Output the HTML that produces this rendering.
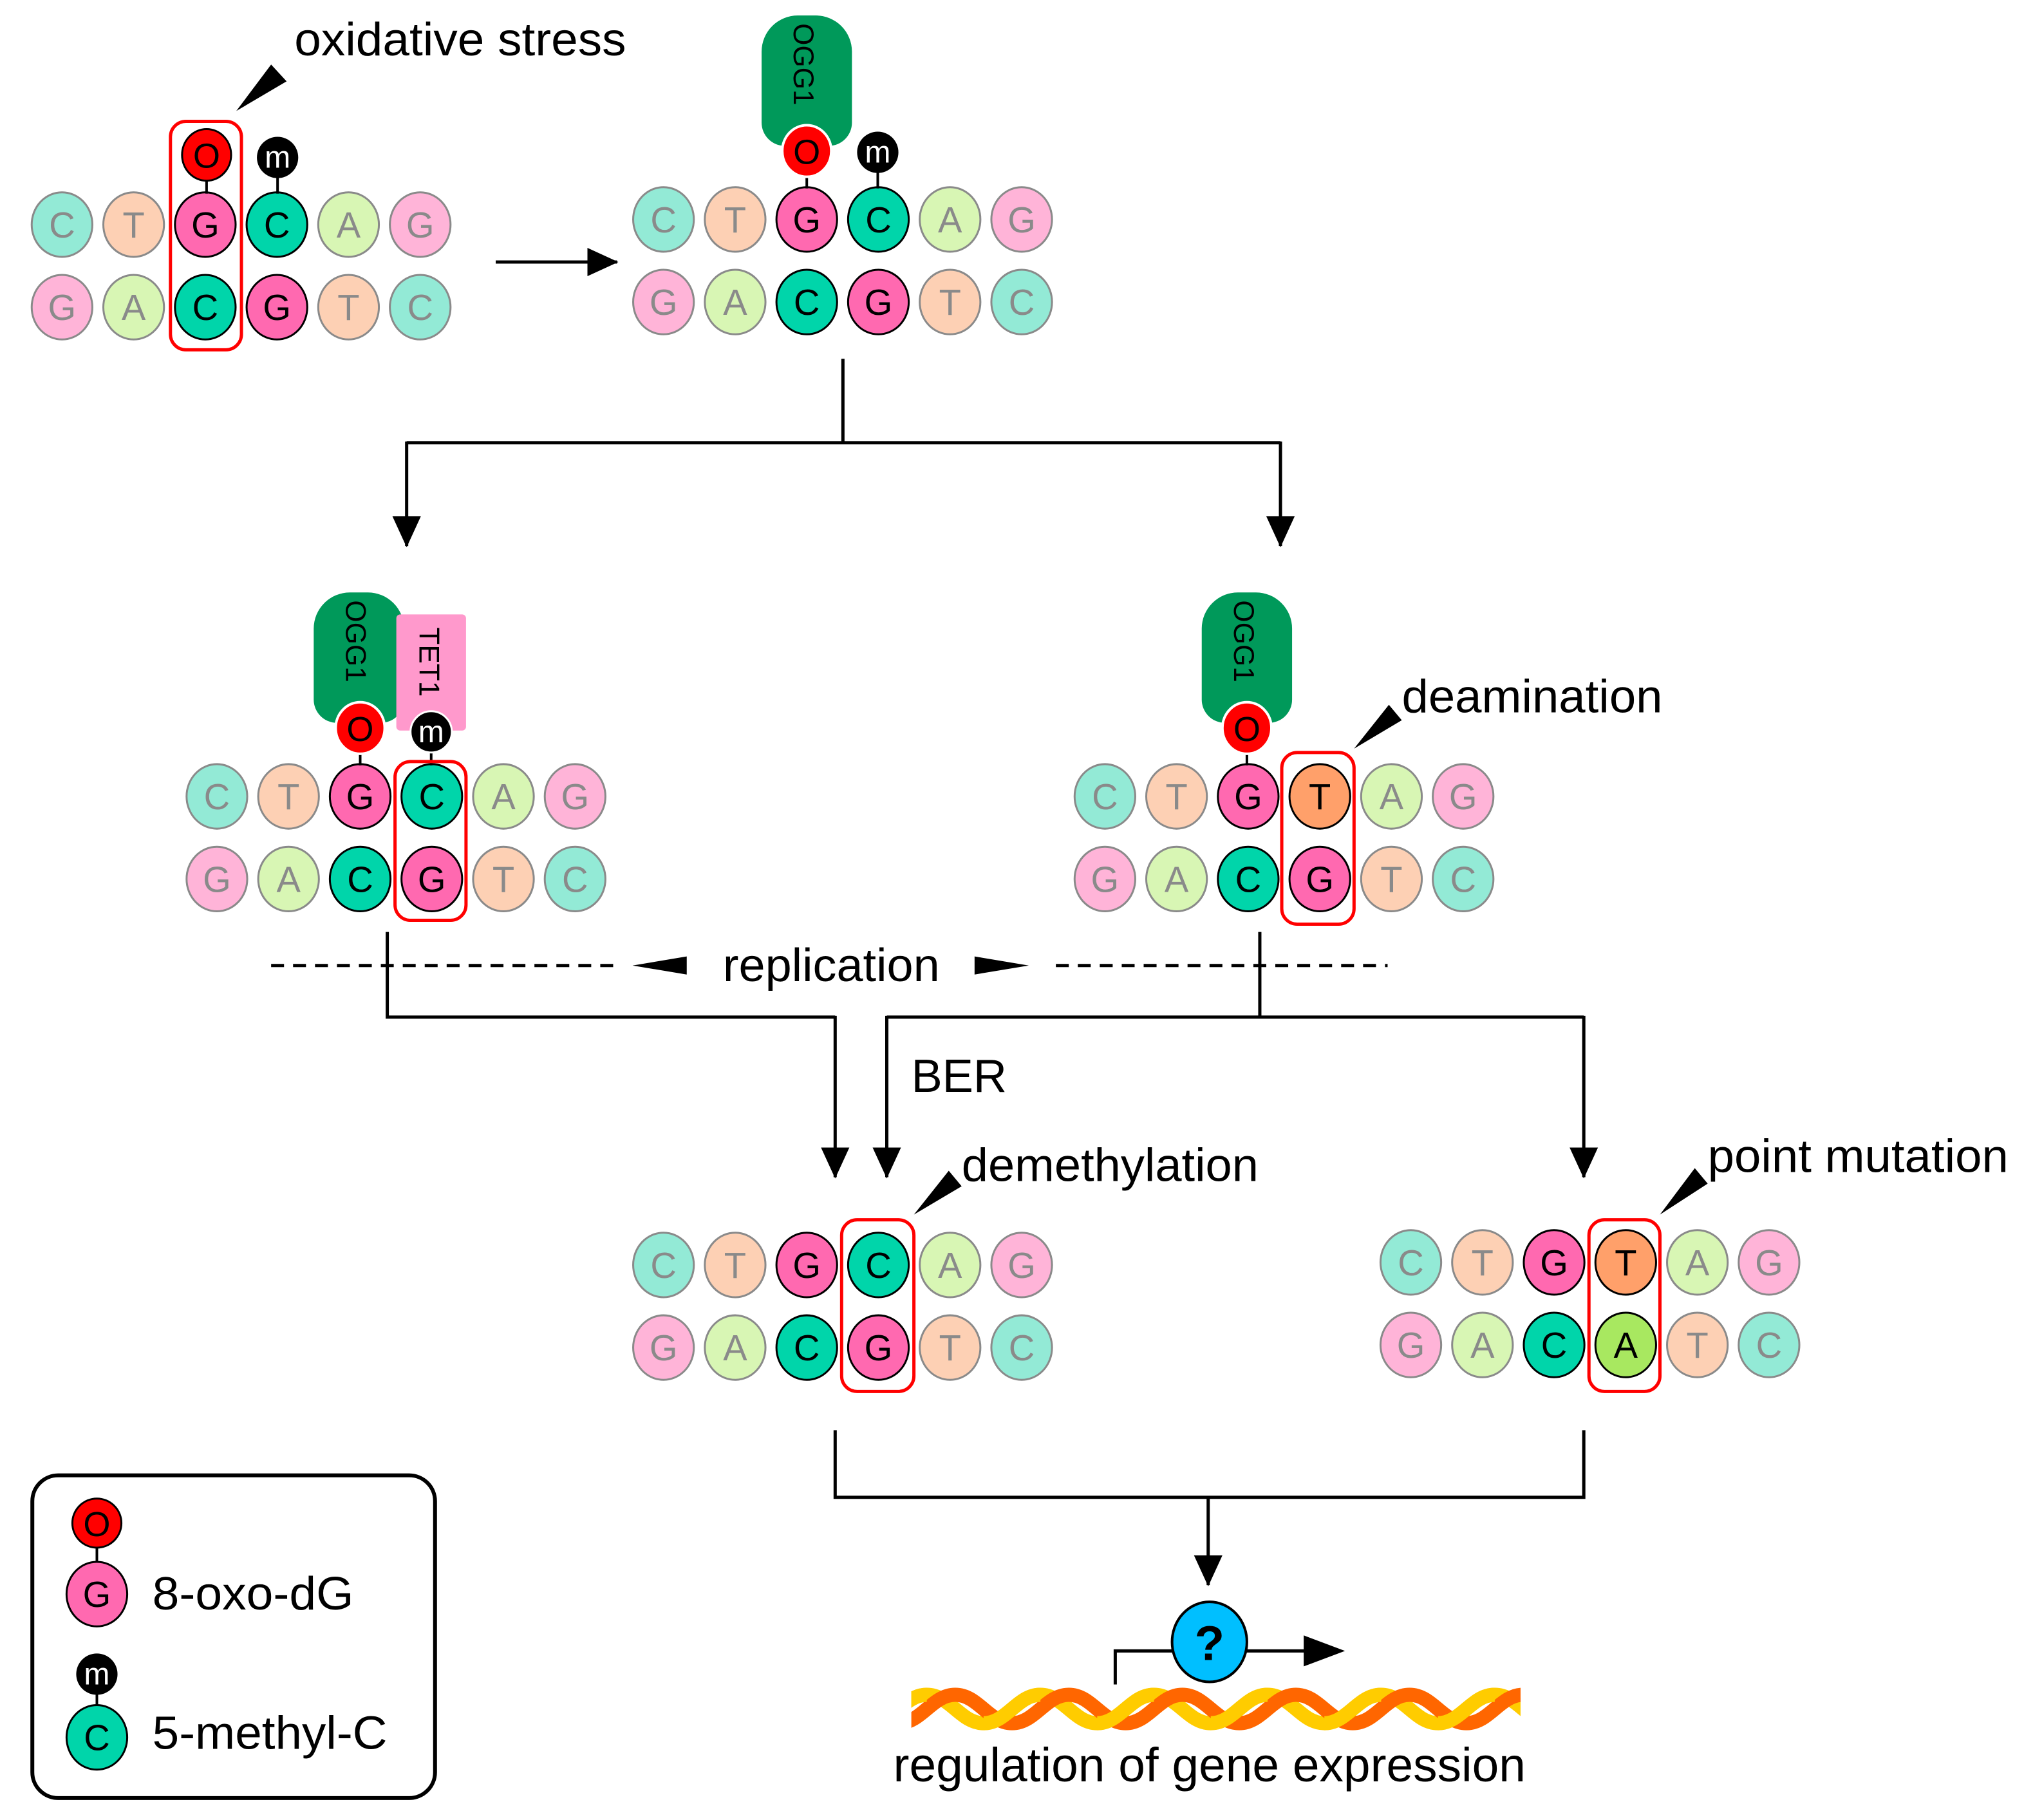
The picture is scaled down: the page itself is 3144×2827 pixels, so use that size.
<!DOCTYPE html>
<html><head><meta charset="utf-8"><style>
html,body{margin:0;padding:0;background:#fff}
svg{display:block}
text{font-family:"Liberation Sans",sans-serif}
.l ellipse{stroke:#8a8a8a;stroke-width:1.5}
.l text{fill:#8a8a8a}
.b ellipse{stroke:#000;stroke-width:1.5}
.b text{fill:#000}
.n text{font-size:28px;text-anchor:middle}
.ln{stroke:#000;stroke-width:2.5;fill:none}
</style></head><body>
<svg width="3144" height="2827" viewBox="0 0 1568 1410" xmlns="http://www.w3.org/2000/svg">
<defs>
<marker id="ah" viewBox="0 0 24 22" refX="23" refY="11" markerWidth="24" markerHeight="22" markerUnits="userSpaceOnUse" orient="auto"><path d="M0,0 L24,11 L0,22z" fill="#000"/></marker>
<clipPath id="hc"><rect x="706" y="1300" width="472" height="50"/></clipPath>
</defs>

<!-- Group 1 -->
<g class="n" transform="translate(48,174)">
<g class="l"><ellipse cx="0" cy="0" rx="23.5" ry="25" fill="#93EAD6"/><text x="0" y="10">C</text>
<ellipse cx="55.5" cy="0" rx="23.5" ry="25" fill="#FDD0B4"/><text x="55.5" y="10">T</text>
<ellipse cx="222" cy="0" rx="23.5" ry="25" fill="#D8F6B4"/><text x="222" y="10">A</text>
<ellipse cx="277.5" cy="0" rx="23.5" ry="25" fill="#FFB4D8"/><text x="277.5" y="10">G</text>
<ellipse cx="0" cy="64" rx="23.5" ry="25" fill="#FFB4D8"/><text x="0" y="74">G</text>
<ellipse cx="55.5" cy="64" rx="23.5" ry="25" fill="#D8F6B4"/><text x="55.5" y="74">A</text>
<ellipse cx="222" cy="64" rx="23.5" ry="25" fill="#FDD0B4"/><text x="222" y="74">T</text>
<ellipse cx="277.5" cy="64" rx="23.5" ry="25" fill="#93EAD6"/><text x="277.5" y="74">C</text></g>
<g class="b"><ellipse cx="111" cy="0" rx="23.5" ry="25" fill="#FF69B0"/><text x="111" y="10">G</text>
<ellipse cx="166.5" cy="0" rx="23.5" ry="25" fill="#00D5AA"/><text x="166.5" y="10">C</text>
<ellipse cx="111" cy="64" rx="23.5" ry="25" fill="#00D5AA"/><text x="111" y="74">C</text>
<ellipse cx="166.5" cy="64" rx="23.5" ry="25" fill="#FF69B0"/><text x="166.5" y="74">G</text></g>
</g>
<line x1="160" y1="137" x2="160" y2="150" stroke="#000" stroke-width="2"/>
<ellipse cx="160" cy="120" rx="19" ry="20" fill="#FF0000" stroke="#000" stroke-width="1.5"/><text x="160" y="130" font-size="27" text-anchor="middle">O</text>
<line x1="215" y1="136" x2="215" y2="150" stroke="#000" stroke-width="2"/>
<ellipse cx="215" cy="122" rx="16" ry="16" fill="#000"/><text x="215" y="130" font-size="24" fill="#fff" text-anchor="middle">m</text>
<rect x="132" y="94" width="55" height="177" rx="12" fill="none" stroke="#FF0000" stroke-width="2.5"/>
<polygon points="183,86 210,50 222,63" fill="#000"/>
<text x="228" y="43" font-size="36" textLength="257" lengthAdjust="spacingAndGlyphs">oxidative stress</text>
<line x1="384" y1="203" x2="478" y2="203" class="ln" marker-end="url(#ah)"/>

<!-- Group 2 -->
<path d="M590,40 a28,28 0 0 1 28,-28 h14 a28,28 0 0 1 28,28 v55 a18,18 0 0 1 -18,18 h-34 a18,18 0 0 1 -18,-18z" fill="#00995A"/>
<text transform="translate(615,18) rotate(90)" font-size="22">OGG1</text>
<g class="n" transform="translate(514,170)">
<g class="l"><ellipse cx="0" cy="0" rx="23.5" ry="25" fill="#93EAD6"/><text x="0" y="10">C</text>
<ellipse cx="55.5" cy="0" rx="23.5" ry="25" fill="#FDD0B4"/><text x="55.5" y="10">T</text>
<ellipse cx="222" cy="0" rx="23.5" ry="25" fill="#D8F6B4"/><text x="222" y="10">A</text>
<ellipse cx="277.5" cy="0" rx="23.5" ry="25" fill="#FFB4D8"/><text x="277.5" y="10">G</text>
<ellipse cx="0" cy="64" rx="23.5" ry="25" fill="#FFB4D8"/><text x="0" y="74">G</text>
<ellipse cx="55.5" cy="64" rx="23.5" ry="25" fill="#D8F6B4"/><text x="55.5" y="74">A</text>
<ellipse cx="222" cy="64" rx="23.5" ry="25" fill="#FDD0B4"/><text x="222" y="74">T</text>
<ellipse cx="277.5" cy="64" rx="23.5" ry="25" fill="#93EAD6"/><text x="277.5" y="74">C</text></g>
<g class="b"><ellipse cx="111" cy="0" rx="23.5" ry="25" fill="#FF69B0"/><text x="111" y="10">G</text>
<ellipse cx="166.5" cy="0" rx="23.5" ry="25" fill="#00D5AA"/><text x="166.5" y="10">C</text>
<ellipse cx="111" cy="64" rx="23.5" ry="25" fill="#00D5AA"/><text x="111" y="74">C</text>
<ellipse cx="166.5" cy="64" rx="23.5" ry="25" fill="#FF69B0"/><text x="166.5" y="74">G</text></g>
</g>
<line x1="625" y1="133" x2="625" y2="146" stroke="#000" stroke-width="2"/>
<ellipse cx="625" cy="117" rx="19" ry="20" fill="#FF0000" stroke="#fff" stroke-width="2"/><text x="625" y="127" font-size="27" text-anchor="middle">O</text>
<line x1="680" y1="132" x2="680" y2="146" stroke="#000" stroke-width="2"/>
<ellipse cx="680" cy="118" rx="16" ry="16" fill="#000"/><text x="680" y="126" font-size="24" fill="#fff" text-anchor="middle">m</text>

<path d="M653,278 V343 M315,343 H992" class="ln"/>
<line x1="315" y1="342" x2="315" y2="423" class="ln" marker-end="url(#ah)"/>
<line x1="992" y1="342" x2="992" y2="423" class="ln" marker-end="url(#ah)"/>

<!-- Group 3 -->
<path d="M243,487 a28,28 0 0 1 28,-28 h14 a28,28 0 0 1 28,28 v55 a18,18 0 0 1 -18,18 h-34 a18,18 0 0 1 -18,-18z" fill="#00995A"/>
<text transform="translate(268,465) rotate(90)" font-size="22">OGG1</text>
<rect x="307" y="476" width="54" height="90" rx="3" fill="#FF99CC"/>
<text transform="translate(325,486) rotate(90)" font-size="22">TET1</text>
<g class="n" transform="translate(168,617)">
<g class="l"><ellipse cx="0" cy="0" rx="23.5" ry="25" fill="#93EAD6"/><text x="0" y="10">C</text>
<ellipse cx="55.5" cy="0" rx="23.5" ry="25" fill="#FDD0B4"/><text x="55.5" y="10">T</text>
<ellipse cx="222" cy="0" rx="23.5" ry="25" fill="#D8F6B4"/><text x="222" y="10">A</text>
<ellipse cx="277.5" cy="0" rx="23.5" ry="25" fill="#FFB4D8"/><text x="277.5" y="10">G</text>
<ellipse cx="0" cy="64" rx="23.5" ry="25" fill="#FFB4D8"/><text x="0" y="74">G</text>
<ellipse cx="55.5" cy="64" rx="23.5" ry="25" fill="#D8F6B4"/><text x="55.5" y="74">A</text>
<ellipse cx="222" cy="64" rx="23.5" ry="25" fill="#FDD0B4"/><text x="222" y="74">T</text>
<ellipse cx="277.5" cy="64" rx="23.5" ry="25" fill="#93EAD6"/><text x="277.5" y="74">C</text></g>
<g class="b"><ellipse cx="111" cy="0" rx="23.5" ry="25" fill="#FF69B0"/><text x="111" y="10">G</text>
<ellipse cx="166.5" cy="0" rx="23.5" ry="25" fill="#00D5AA"/><text x="166.5" y="10">C</text>
<ellipse cx="111" cy="64" rx="23.5" ry="25" fill="#00D5AA"/><text x="111" y="74">C</text>
<ellipse cx="166.5" cy="64" rx="23.5" ry="25" fill="#FF69B0"/><text x="166.5" y="74">G</text></g>
</g>
<line x1="279" y1="580" x2="279" y2="593" stroke="#000" stroke-width="2"/>
<ellipse cx="279" cy="564" rx="19" ry="20" fill="#FF0000" stroke="#fff" stroke-width="2"/><text x="279" y="574" font-size="27" text-anchor="middle">O</text>
<line x1="334" y1="580" x2="334" y2="593" stroke="#000" stroke-width="2"/>
<ellipse cx="334" cy="567" rx="16" ry="16" fill="#000" stroke="#fff" stroke-width="1.5"/><text x="334" y="575" font-size="24" fill="#fff" text-anchor="middle">m</text>
<rect x="306" y="590" width="55" height="123" rx="12" fill="none" stroke="#FF0000" stroke-width="2.5"/>

<!-- Group 4 -->
<path d="M931,487 a28,28 0 0 1 28,-28 h14 a28,28 0 0 1 28,28 v55 a18,18 0 0 1 -18,18 h-34 a18,18 0 0 1 -18,-18z" fill="#00995A"/>
<text transform="translate(956,465) rotate(90)" font-size="22">OGG1</text>
<g class="n" transform="translate(856,617)">
<g class="l"><ellipse cx="0" cy="0" rx="23.5" ry="25" fill="#93EAD6"/><text x="0" y="10">C</text>
<ellipse cx="55.5" cy="0" rx="23.5" ry="25" fill="#FDD0B4"/><text x="55.5" y="10">T</text>
<ellipse cx="222" cy="0" rx="23.5" ry="25" fill="#D8F6B4"/><text x="222" y="10">A</text>
<ellipse cx="277.5" cy="0" rx="23.5" ry="25" fill="#FFB4D8"/><text x="277.5" y="10">G</text>
<ellipse cx="0" cy="64" rx="23.5" ry="25" fill="#FFB4D8"/><text x="0" y="74">G</text>
<ellipse cx="55.5" cy="64" rx="23.5" ry="25" fill="#D8F6B4"/><text x="55.5" y="74">A</text>
<ellipse cx="222" cy="64" rx="23.5" ry="25" fill="#FDD0B4"/><text x="222" y="74">T</text>
<ellipse cx="277.5" cy="64" rx="23.5" ry="25" fill="#93EAD6"/><text x="277.5" y="74">C</text></g>
<g class="b"><ellipse cx="111" cy="0" rx="23.5" ry="25" fill="#FF69B0"/><text x="111" y="10">G</text>
<ellipse cx="166.5" cy="0" rx="23.5" ry="25" fill="#FFA06A"/><text x="166.5" y="10">T</text>
<ellipse cx="111" cy="64" rx="23.5" ry="25" fill="#00D5AA"/><text x="111" y="74">C</text>
<ellipse cx="166.5" cy="64" rx="23.5" ry="25" fill="#FF69B0"/><text x="166.5" y="74">G</text></g>
</g>
<line x1="966" y1="580" x2="966" y2="593" stroke="#000" stroke-width="2"/>
<ellipse cx="966" cy="564" rx="19" ry="20" fill="#FF0000" stroke="#fff" stroke-width="2"/><text x="966" y="574" font-size="27" text-anchor="middle">O</text>
<rect x="993" y="583" width="56" height="133" rx="12" fill="none" stroke="#FF0000" stroke-width="2.5"/>
<polygon points="1049,580 1076,546 1086,558" fill="#000"/>
<text x="1086" y="552" font-size="36" textLength="202" lengthAdjust="spacingAndGlyphs">deamination</text>

<!-- replication -->
<line x1="210" y1="748" x2="482" y2="748" stroke="#000" stroke-width="2.5" stroke-dasharray="10,7"/>
<line x1="818" y1="748" x2="1075" y2="748" stroke="#000" stroke-width="2.5" stroke-dasharray="10,7"/>
<polygon points="490,748 532,741 532,755" fill="#000"/>
<polygon points="797,748 755,741 755,755" fill="#000"/>
<text x="560" y="760" font-size="36" textLength="168" lengthAdjust="spacingAndGlyphs">replication</text>

<path d="M300,722 V788 H647" class="ln"/>
<line x1="647" y1="787" x2="647" y2="912" class="ln" marker-end="url(#ah)"/>
<path d="M976,722 V788 M687,788 H1227" class="ln"/>
<line x1="687" y1="787" x2="687" y2="912" class="ln" marker-end="url(#ah)"/>
<line x1="1227" y1="787" x2="1227" y2="912" class="ln" marker-end="url(#ah)"/>
<text x="706" y="846" font-size="36" textLength="74" lengthAdjust="spacingAndGlyphs">BER</text>

<!-- Group 5 -->
<g class="n" transform="translate(514,980)">
<g class="l"><ellipse cx="0" cy="0" rx="23.5" ry="25" fill="#93EAD6"/><text x="0" y="10">C</text>
<ellipse cx="55.5" cy="0" rx="23.5" ry="25" fill="#FDD0B4"/><text x="55.5" y="10">T</text>
<ellipse cx="222" cy="0" rx="23.5" ry="25" fill="#D8F6B4"/><text x="222" y="10">A</text>
<ellipse cx="277.5" cy="0" rx="23.5" ry="25" fill="#FFB4D8"/><text x="277.5" y="10">G</text>
<ellipse cx="0" cy="64" rx="23.5" ry="25" fill="#FFB4D8"/><text x="0" y="74">G</text>
<ellipse cx="55.5" cy="64" rx="23.5" ry="25" fill="#D8F6B4"/><text x="55.5" y="74">A</text>
<ellipse cx="222" cy="64" rx="23.5" ry="25" fill="#FDD0B4"/><text x="222" y="74">T</text>
<ellipse cx="277.5" cy="64" rx="23.5" ry="25" fill="#93EAD6"/><text x="277.5" y="74">C</text></g>
<g class="b"><ellipse cx="111" cy="0" rx="23.5" ry="25" fill="#FF69B0"/><text x="111" y="10">G</text>
<ellipse cx="166.5" cy="0" rx="23.5" ry="25" fill="#00D5AA"/><text x="166.5" y="10">C</text>
<ellipse cx="111" cy="64" rx="23.5" ry="25" fill="#00D5AA"/><text x="111" y="74">C</text>
<ellipse cx="166.5" cy="64" rx="23.5" ry="25" fill="#FF69B0"/><text x="166.5" y="74">G</text></g>
</g>
<rect x="652" y="945" width="56" height="133" rx="12" fill="none" stroke="#FF0000" stroke-width="2.5"/>
<polygon points="708,941 735,907 745,919" fill="#000"/>
<text x="745" y="915" font-size="36" textLength="230" lengthAdjust="spacingAndGlyphs">demethylation</text>

<!-- Group 6 -->
<g class="n" transform="translate(1093,978)">
<g class="l"><ellipse cx="0" cy="0" rx="23.5" ry="25" fill="#93EAD6"/><text x="0" y="10">C</text>
<ellipse cx="55.5" cy="0" rx="23.5" ry="25" fill="#FDD0B4"/><text x="55.5" y="10">T</text>
<ellipse cx="222" cy="0" rx="23.5" ry="25" fill="#D8F6B4"/><text x="222" y="10">A</text>
<ellipse cx="277.5" cy="0" rx="23.5" ry="25" fill="#FFB4D8"/><text x="277.5" y="10">G</text>
<ellipse cx="0" cy="64" rx="23.5" ry="25" fill="#FFB4D8"/><text x="0" y="74">G</text>
<ellipse cx="55.5" cy="64" rx="23.5" ry="25" fill="#D8F6B4"/><text x="55.5" y="74">A</text>
<ellipse cx="222" cy="64" rx="23.5" ry="25" fill="#FDD0B4"/><text x="222" y="74">T</text>
<ellipse cx="277.5" cy="64" rx="23.5" ry="25" fill="#93EAD6"/><text x="277.5" y="74">C</text></g>
<g class="b"><ellipse cx="111" cy="0" rx="23.5" ry="25" fill="#FF69B0"/><text x="111" y="10">G</text>
<ellipse cx="166.5" cy="0" rx="23.5" ry="25" fill="#FFA06A"/><text x="166.5" y="10">T</text>
<ellipse cx="111" cy="64" rx="23.5" ry="25" fill="#00D5AA"/><text x="111" y="74">C</text>
<ellipse cx="166.5" cy="64" rx="23.5" ry="25" fill="#A8E860"/><text x="166.5" y="74">A</text></g>
</g>
<rect x="1231" y="945" width="55" height="133" rx="12" fill="none" stroke="#FF0000" stroke-width="2.5"/>
<polygon points="1286,941 1313,905 1323,917" fill="#000"/>
<text x="1323" y="908" font-size="36" textLength="233" lengthAdjust="spacingAndGlyphs">point mutation</text>

<path d="M647,1108 V1160 H1227 V1108" class="ln"/>
<line x1="936" y1="1160" x2="936" y2="1228" class="ln" marker-end="url(#ah)"/>

<!-- helix -->
<g fill="none" stroke-width="11" clip-path="url(#hc)">
<path d="M630,1313 C648,1313 656,1335 674,1335 C692,1335 700,1313 718,1313 C736,1313 744,1335 762,1335 C780,1335 788,1313 806,1313 C824,1313 832,1335 850,1335 C868,1335 876,1313 894,1313 C912,1313 920,1335 938,1335 C956,1335 964,1313 982,1313 C1000,1313 1008,1335 1026,1335 C1044,1335 1052,1313 1070,1313 C1088,1313 1096,1335 1114,1335 C1132,1335 1140,1313 1158,1313 C1176,1313 1184,1335 1202,1335" stroke="#FFCC00"/>
<path d="M652,1313 C670,1313 678,1335 696,1335 C714,1335 722,1313 740,1313 C758,1313 766,1335 784,1335 C802,1335 810,1313 828,1313 C846,1313 854,1335 872,1335 C890,1335 898,1313 916,1313 C934,1313 942,1335 960,1335 C978,1335 986,1313 1004,1313 C1022,1313 1030,1335 1048,1335 C1066,1335 1074,1313 1092,1313 C1110,1313 1118,1335 1136,1335 C1154,1335 1162,1313 1180,1313 C1198,1313 1206,1335 1224,1335" stroke="#FF6600"/>
<path d="M674,1335 C692,1335 700,1313 718,1313 M762,1335 C780,1335 788,1313 806,1313 M850,1335 C868,1335 876,1313 894,1313 M938,1335 C956,1335 964,1313 982,1313 M1026,1335 C1044,1335 1052,1313 1070,1313 M1114,1335 C1132,1335 1140,1313 1158,1313" stroke="#FFCC00"/>
</g>
<path d="M864,1305 V1279 H1012" class="ln"/>
<polygon points="1010,1267 1042,1279 1010,1291" fill="#000"/>
<ellipse cx="937" cy="1272" rx="29" ry="31" fill="#00BFFF" stroke="#000" stroke-width="2"/>
<text x="937" y="1286" font-size="38" font-weight="bold" text-anchor="middle">?</text>
<text x="692" y="1380" font-size="37" textLength="490" lengthAdjust="spacingAndGlyphs">regulation of gene expression</text>

<!-- Legend -->
<rect x="25" y="1143" width="312" height="250" rx="20" fill="none" stroke="#000" stroke-width="3"/>
<line x1="75" y1="1195" x2="75" y2="1212" stroke="#000" stroke-width="2"/>
<ellipse cx="75" cy="1180" rx="19" ry="19" fill="#FF0000" stroke="#000" stroke-width="1.5"/><text x="75" y="1190" font-size="27" text-anchor="middle">O</text>
<ellipse cx="75" cy="1235" rx="23.5" ry="25" fill="#FF69B0" stroke="#000" stroke-width="1.5"/><text x="75" y="1245" font-size="28" text-anchor="middle">G</text>
<text x="118" y="1247" font-size="36" textLength="156" lengthAdjust="spacingAndGlyphs">8-oxo-dG</text>
<line x1="75" y1="1310" x2="75" y2="1323" stroke="#000" stroke-width="2"/>
<ellipse cx="75" cy="1297" rx="16" ry="16" fill="#000"/><text x="75" y="1305" font-size="24" fill="#fff" text-anchor="middle">m</text>
<ellipse cx="75" cy="1346" rx="23.5" ry="25" fill="#00D5AA" stroke="#000" stroke-width="1.5"/><text x="75" y="1356" font-size="28" text-anchor="middle">C</text>
<text x="118" y="1355" font-size="36" textLength="182" lengthAdjust="spacingAndGlyphs">5-methyl-C</text>
</svg>
</body></html>
